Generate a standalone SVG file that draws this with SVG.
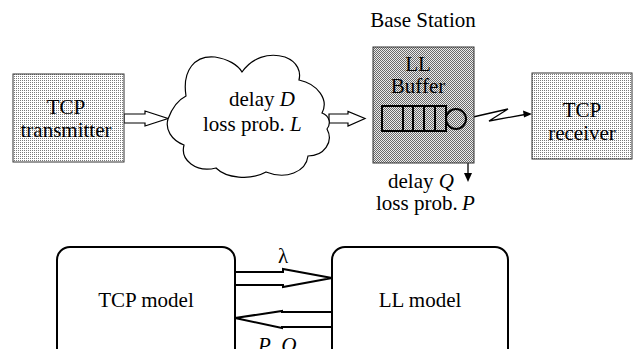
<svg xmlns="http://www.w3.org/2000/svg" width="634" height="349" viewBox="0 0 634 349">
<style>
text{font-family:"Liberation Serif","Times New Roman",serif;font-size:21px;fill:#000}
.it{font-style:italic}
.box{stroke:#333;stroke-width:1}
.hollow{fill:#fff;stroke:#000;stroke-width:1.2;stroke-linejoin:miter}
.thick{fill:#fff;stroke:#000;stroke-width:2;stroke-linejoin:miter}
.model{fill:#fff;stroke:#000;stroke-width:2}
.ln{fill:none;stroke:#000;stroke-width:1.3}
.q{fill:none;stroke:#000;stroke-width:2}
</style>
<defs>
<pattern id="light" width="2" height="2" patternUnits="userSpaceOnUse">
<rect width="2" height="2" fill="#fff"/><rect width="1" height="1" fill="#7a7a7a"/>
</pattern>
<pattern id="dark" width="2" height="2" patternUnits="userSpaceOnUse">
<rect width="2" height="2" fill="#ececec"/><rect width="1" height="1" fill="#6a6a6a"/><rect x="1" y="1" width="1" height="1" fill="#6a6a6a"/>
</pattern>
</defs>
<rect width="634" height="349" fill="#fff"/>
<g id="connectors">
<path class="hollow" d="M124,114 H145 V111 L168,118.5 L145,126 V123 H124 Z"/>
<path class="hollow" d="M329,114 H348 V111.5 L365,118.5 L348,126 V123 H329 Z"/>
<path class="ln" d="M473,117 L508,109 L489,121 L525,114.5"/>
<path d="M532,114 L523,110.5 L524,117.5 Z" fill="#000"/>
<path d="M466,114 L466,121 L474,117 Z" fill="#000"/>
<path class="ln" d="M468,119 V174"/>
<path d="M464,173 L472,173 L468,182 Z" fill="#000"/>
<path class="thick" d="M235,272 H283 V269 L332,278 L283,287 V285 H235 Z"/>
<path class="thick" d="M332,312 H282 V311 L235,318 L282,328 V327 H332"/>
</g>
<g id="tcp-transmitter">
<rect class="box" x="13" y="74" width="111" height="88" fill="url(#light)"/>
<text x="66" y="114" text-anchor="middle">TCP</text>
<text x="66" y="137" text-anchor="middle">transmitter</text>
</g>
<g id="cloud">
<path fill="#fff" stroke="#000" stroke-width="1.2" d="M168,119 C172,108 178,100 186,96 C182,70 195,55 215,57 C228,59 238,65 242,72 C252,58 268,52 285,57 C298,62 301,72 299,80 C318,84 329,100 322,113 C330,116 331,124 327,129 C334,142 324,156 308,156 C306,172 286,180 266,172 C250,181 226,178 216,168 C196,173 180,160 184,145 C171,140 165,129 168,119 Z"/>
<text x="229" y="106">delay <tspan class="it">D</tspan></text>
<text x="203" y="131">loss prob. <tspan class="it">L</tspan></text>
</g>
<g id="base-station">
<text x="423" y="27" text-anchor="middle">Base Station</text>
<rect class="box" x="373" y="47" width="101" height="116" fill="url(#dark)"/>
<text x="418" y="71" text-anchor="middle">LL</text>
<text x="418" y="93" text-anchor="middle">Buffer</text>
<rect class="q" x="382" y="106" width="64" height="25"/>
<path class="q" d="M403,106 V131 M413,106 V131 M424,106 V131 M435,106 V131"/>
<circle class="q" cx="456" cy="119" r="10"/>
<text x="388" y="188">delay <tspan class="it">Q</tspan></text>
<text x="376" y="210">loss prob.</text>
<text x="462" y="210" class="it">P</text>
</g>
<g id="tcp-receiver">
<rect class="box" x="532" y="73" width="100" height="86" fill="url(#light)"/>
<text x="582" y="117" text-anchor="middle">TCP</text>
<text x="582" y="140" text-anchor="middle">receiver</text>
</g>
<g id="tcp-model">
<rect class="model" x="57" y="247" width="178" height="130" rx="13"/>
<text x="146" y="307" text-anchor="middle">TCP model</text>
</g>
<g id="ll-model">
<rect class="model" x="332" y="247" width="176" height="130" rx="13"/>
<text x="420" y="307" text-anchor="middle">LL model</text>
</g>
<g id="labels">
<text x="283" y="263" text-anchor="middle">λ</text>
<text x="258" y="352"><tspan class="it">P</tspan>, <tspan class="it">Q</tspan></text>
</g>
</svg>
